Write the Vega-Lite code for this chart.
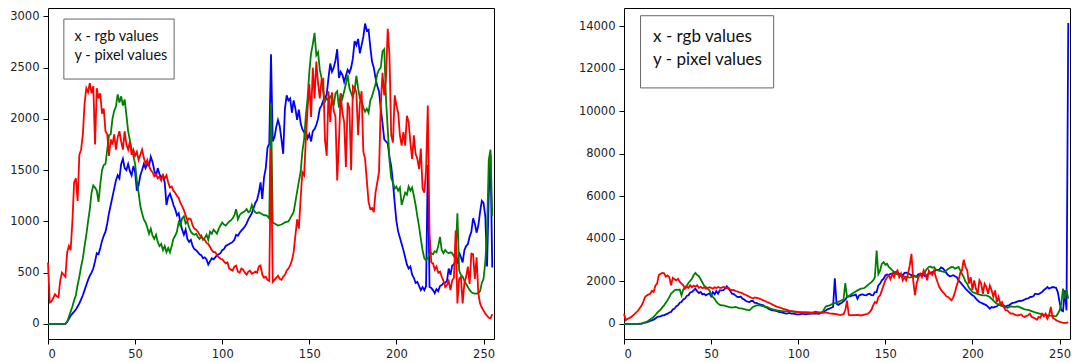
{
"$schema": "https://vega.github.io/schema/vega-lite/v6.json",
"padding": {"left": 9, "top": 7, "right": 0, "bottom": 0},
"bounds": "flush",
"spacing": 130,
"config": {
"view": {"stroke": "#000", "strokeWidth": 1},
"axis": {"domain": false, "grid": false, "format": "d", "tickColor": "#000", "tickSize": 5, "tickWidth": 1, "labelFont": "DejaVu Sans", "labelFontSize": 11.5, "labelColor": "#222", "labelPadding": 4, "title": null}
},
"datasets": {
"Lb": [{"x":0,"y":0},{"x":2,"y":0},{"x":4,"y":0},{"x":6,"y":0},{"x":8,"y":0},{"x":10,"y":0},{"x":11,"y":20},{"x":12,"y":50},{"x":13,"y":80},{"x":14,"y":100},{"x":15,"y":120},{"x":16,"y":140},{"x":17,"y":170},{"x":18,"y":200},{"x":19,"y":240},{"x":20,"y":280},{"x":21,"y":330},{"x":22,"y":380},{"x":23,"y":430},{"x":24,"y":470},{"x":25,"y":500},{"x":26,"y":540},{"x":27,"y":610},{"x":28,"y":690},{"x":29,"y":680},{"x":30,"y":740},{"x":31,"y":810},{"x":32,"y":860},{"x":33,"y":900},{"x":34,"y":980},{"x":35,"y":1080},{"x":36,"y":1160},{"x":37,"y":1240},{"x":38,"y":1320},{"x":39,"y":1400},{"x":40,"y":1450},{"x":41,"y":1420},{"x":42,"y":1560},{"x":43,"y":1610},{"x":44,"y":1520},{"x":45,"y":1500},{"x":46,"y":1560},{"x":47,"y":1490},{"x":48,"y":1450},{"x":49,"y":1540},{"x":50,"y":1480},{"x":51,"y":1300},{"x":52,"y":1350},{"x":53,"y":1450},{"x":54,"y":1500},{"x":55,"y":1560},{"x":56,"y":1520},{"x":57,"y":1560},{"x":58,"y":1540},{"x":59,"y":1630},{"x":60,"y":1580},{"x":61,"y":1500},{"x":62,"y":1440},{"x":63,"y":1520},{"x":64,"y":1460},{"x":65,"y":1430},{"x":66,"y":1450},{"x":67,"y":1380},{"x":68,"y":1160},{"x":69,"y":1240},{"x":70,"y":1270},{"x":71,"y":1220},{"x":72,"y":1160},{"x":73,"y":1120},{"x":74,"y":1060},{"x":75,"y":1080},{"x":76,"y":990},{"x":77,"y":920},{"x":78,"y":870},{"x":79,"y":920},{"x":80,"y":830},{"x":81,"y":800},{"x":82,"y":820},{"x":83,"y":760},{"x":84,"y":730},{"x":85,"y":720},{"x":86,"y":700},{"x":87,"y":680},{"x":88,"y":670},{"x":89,"y":640},{"x":90,"y":650},{"x":91,"y":630},{"x":92,"y":580},{"x":93,"y":610},{"x":94,"y":640},{"x":95,"y":630},{"x":96,"y":650},{"x":97,"y":670},{"x":98,"y":680},{"x":99,"y":690},{"x":100,"y":720},{"x":101,"y":730},{"x":102,"y":760},{"x":103,"y":770},{"x":104,"y":780},{"x":105,"y":790},{"x":106,"y":800},{"x":107,"y":820},{"x":108,"y":870},{"x":109,"y":860},{"x":110,"y":890},{"x":111,"y":910},{"x":112,"y":930},{"x":113,"y":950},{"x":114,"y":980},{"x":115,"y":1020},{"x":116,"y":1050},{"x":117,"y":1080},{"x":118,"y":1130},{"x":119,"y":1180},{"x":120,"y":1210},{"x":121,"y":1280},{"x":122,"y":1380},{"x":123,"y":1220},{"x":124,"y":1430},{"x":125,"y":1520},{"x":126,"y":1720},{"x":127,"y":1760},{"x":128,"y":2630},{"x":129,"y":1780},{"x":130,"y":1820},{"x":131,"y":1920},{"x":132,"y":1990},{"x":133,"y":1930},{"x":134,"y":1800},{"x":135,"y":1660},{"x":136,"y":2100},{"x":137,"y":2230},{"x":138,"y":2180},{"x":139,"y":2200},{"x":140,"y":2060},{"x":141,"y":2180},{"x":142,"y":2100},{"x":143,"y":1990},{"x":144,"y":2090},{"x":145,"y":1960},{"x":146,"y":1900},{"x":147,"y":1870},{"x":148,"y":1880},{"x":149,"y":1810},{"x":150,"y":1850},{"x":151,"y":1780},{"x":152,"y":1880},{"x":153,"y":1900},{"x":154,"y":1940},{"x":155,"y":2000},{"x":156,"y":2100},{"x":157,"y":2130},{"x":158,"y":2180},{"x":159,"y":2200},{"x":160,"y":2240},{"x":161,"y":2400},{"x":162,"y":2540},{"x":163,"y":2460},{"x":164,"y":2500},{"x":165,"y":2570},{"x":166,"y":2680},{"x":167,"y":2400},{"x":168,"y":2460},{"x":169,"y":2430},{"x":170,"y":2360},{"x":171,"y":2420},{"x":172,"y":2480},{"x":173,"y":2450},{"x":174,"y":2500},{"x":175,"y":2590},{"x":176,"y":2760},{"x":177,"y":2720},{"x":178,"y":2780},{"x":179,"y":2640},{"x":180,"y":2720},{"x":181,"y":2800},{"x":182,"y":2930},{"x":183,"y":2860},{"x":184,"y":2870},{"x":185,"y":2700},{"x":186,"y":2560},{"x":187,"y":2500},{"x":188,"y":2400},{"x":189,"y":2320},{"x":190,"y":2270},{"x":191,"y":2100},{"x":192,"y":1960},{"x":193,"y":1800},{"x":194,"y":1780},{"x":195,"y":1760},{"x":196,"y":1630},{"x":197,"y":1540},{"x":198,"y":1380},{"x":199,"y":1180},{"x":200,"y":1000},{"x":201,"y":900},{"x":202,"y":840},{"x":203,"y":780},{"x":204,"y":720},{"x":205,"y":650},{"x":206,"y":580},{"x":207,"y":540},{"x":208,"y":560},{"x":209,"y":480},{"x":210,"y":450},{"x":211,"y":400},{"x":212,"y":410},{"x":213,"y":370},{"x":214,"y":330},{"x":215,"y":360},{"x":216,"y":330},{"x":217,"y":370},{"x":218,"y":1550},{"x":219,"y":360},{"x":220,"y":350},{"x":221,"y":330},{"x":222,"y":300},{"x":223,"y":340},{"x":224,"y":320},{"x":225,"y":370},{"x":226,"y":380},{"x":227,"y":400},{"x":228,"y":400},{"x":229,"y":420},{"x":230,"y":540},{"x":231,"y":480},{"x":232,"y":570},{"x":233,"y":580},{"x":234,"y":620},{"x":235,"y":600},{"x":236,"y":700},{"x":237,"y":650},{"x":238,"y":600},{"x":239,"y":720},{"x":240,"y":760},{"x":241,"y":780},{"x":242,"y":850},{"x":243,"y":900},{"x":244,"y":1030},{"x":245,"y":980},{"x":246,"y":890},{"x":247,"y":960},{"x":248,"y":1090},{"x":249,"y":1200},{"x":250,"y":1180},{"x":251,"y":1050},{"x":252,"y":560},{"x":253,"y":1250},{"x":254,"y":1650},{"x":255,"y":550}],
"Lg": [{"x":0,"y":0},{"x":2,"y":0},{"x":4,"y":0},{"x":6,"y":0},{"x":8,"y":0},{"x":10,"y":0},{"x":11,"y":20},{"x":12,"y":70},{"x":13,"y":120},{"x":14,"y":170},{"x":15,"y":230},{"x":16,"y":280},{"x":17,"y":380},{"x":18,"y":460},{"x":19,"y":560},{"x":20,"y":640},{"x":21,"y":760},{"x":22,"y":870},{"x":23,"y":1000},{"x":24,"y":1120},{"x":25,"y":1280},{"x":26,"y":1350},{"x":27,"y":1330},{"x":28,"y":1300},{"x":29,"y":1190},{"x":30,"y":1360},{"x":31,"y":1500},{"x":32,"y":1550},{"x":33,"y":1560},{"x":34,"y":1700},{"x":35,"y":1840},{"x":36,"y":1850},{"x":37,"y":2000},{"x":38,"y":2080},{"x":39,"y":2120},{"x":40,"y":2240},{"x":41,"y":2160},{"x":42,"y":2220},{"x":43,"y":2130},{"x":44,"y":2190},{"x":45,"y":2040},{"x":46,"y":1880},{"x":47,"y":1790},{"x":48,"y":1700},{"x":49,"y":1640},{"x":50,"y":1560},{"x":51,"y":1400},{"x":52,"y":1280},{"x":53,"y":1150},{"x":54,"y":1080},{"x":55,"y":1020},{"x":56,"y":990},{"x":57,"y":940},{"x":58,"y":880},{"x":59,"y":930},{"x":60,"y":860},{"x":61,"y":830},{"x":62,"y":870},{"x":63,"y":800},{"x":64,"y":760},{"x":65,"y":780},{"x":66,"y":720},{"x":67,"y":760},{"x":68,"y":700},{"x":69,"y":740},{"x":70,"y":700},{"x":71,"y":760},{"x":72,"y":830},{"x":73,"y":860},{"x":74,"y":900},{"x":75,"y":990},{"x":76,"y":960},{"x":77,"y":1030},{"x":78,"y":1050},{"x":79,"y":980},{"x":80,"y":1000},{"x":81,"y":940},{"x":82,"y":900},{"x":83,"y":880},{"x":84,"y":870},{"x":85,"y":880},{"x":86,"y":850},{"x":87,"y":830},{"x":88,"y":860},{"x":89,"y":820},{"x":90,"y":840},{"x":91,"y":870},{"x":92,"y":820},{"x":93,"y":900},{"x":94,"y":880},{"x":95,"y":920},{"x":96,"y":900},{"x":97,"y":880},{"x":98,"y":930},{"x":99,"y":960},{"x":100,"y":990},{"x":101,"y":970},{"x":102,"y":960},{"x":103,"y":980},{"x":104,"y":1000},{"x":105,"y":1010},{"x":106,"y":1030},{"x":107,"y":1060},{"x":108,"y":1120},{"x":109,"y":1020},{"x":110,"y":1060},{"x":111,"y":1080},{"x":112,"y":1090},{"x":113,"y":1100},{"x":114,"y":1120},{"x":115,"y":1090},{"x":116,"y":1100},{"x":117,"y":1160},{"x":118,"y":1110},{"x":119,"y":1090},{"x":120,"y":1080},{"x":121,"y":1090},{"x":122,"y":1080},{"x":123,"y":1070},{"x":124,"y":1060},{"x":125,"y":1060},{"x":126,"y":1050},{"x":127,"y":1030},{"x":128,"y":2150},{"x":129,"y":990},{"x":130,"y":980},{"x":131,"y":970},{"x":132,"y":960},{"x":133,"y":965},{"x":134,"y":970},{"x":135,"y":980},{"x":136,"y":990},{"x":137,"y":995},{"x":138,"y":1000},{"x":139,"y":1030},{"x":140,"y":1060},{"x":141,"y":1090},{"x":142,"y":1190},{"x":143,"y":1290},{"x":144,"y":1390},{"x":145,"y":1480},{"x":146,"y":1680},{"x":147,"y":1800},{"x":148,"y":2030},{"x":149,"y":2200},{"x":150,"y":2460},{"x":151,"y":2640},{"x":152,"y":2730},{"x":153,"y":2840},{"x":154,"y":2620},{"x":155,"y":2650},{"x":156,"y":2480},{"x":157,"y":2400},{"x":158,"y":2260},{"x":159,"y":2170},{"x":160,"y":2200},{"x":161,"y":2180},{"x":162,"y":2220},{"x":163,"y":2200},{"x":164,"y":2130},{"x":165,"y":2250},{"x":166,"y":2270},{"x":167,"y":2110},{"x":168,"y":2250},{"x":169,"y":2200},{"x":170,"y":2270},{"x":171,"y":2340},{"x":172,"y":2430},{"x":173,"y":2300},{"x":174,"y":2250},{"x":175,"y":2210},{"x":176,"y":2280},{"x":177,"y":2420},{"x":178,"y":2300},{"x":179,"y":2200},{"x":180,"y":2180},{"x":181,"y":2110},{"x":182,"y":2070},{"x":183,"y":2100},{"x":184,"y":2060},{"x":185,"y":2180},{"x":186,"y":2220},{"x":187,"y":2280},{"x":188,"y":2340},{"x":189,"y":2440},{"x":190,"y":2480},{"x":191,"y":2500},{"x":192,"y":2660},{"x":193,"y":2680},{"x":194,"y":2200},{"x":195,"y":1900},{"x":196,"y":1600},{"x":197,"y":1420},{"x":198,"y":1380},{"x":199,"y":1320},{"x":200,"y":1340},{"x":201,"y":1300},{"x":202,"y":1330},{"x":203,"y":1160},{"x":204,"y":1220},{"x":205,"y":1280},{"x":206,"y":1260},{"x":207,"y":1340},{"x":208,"y":1300},{"x":209,"y":1330},{"x":210,"y":1250},{"x":211,"y":1160},{"x":212,"y":1050},{"x":213,"y":950},{"x":214,"y":830},{"x":215,"y":720},{"x":216,"y":640},{"x":217,"y":620},{"x":218,"y":640},{"x":219,"y":680},{"x":220,"y":690},{"x":221,"y":680},{"x":222,"y":710},{"x":223,"y":700},{"x":224,"y":760},{"x":225,"y":850},{"x":226,"y":720},{"x":227,"y":690},{"x":228,"y":720},{"x":229,"y":700},{"x":230,"y":690},{"x":231,"y":700},{"x":232,"y":690},{"x":233,"y":660},{"x":234,"y":700},{"x":235,"y":1080},{"x":236,"y":520},{"x":237,"y":480},{"x":238,"y":460},{"x":239,"y":420},{"x":240,"y":390},{"x":241,"y":360},{"x":242,"y":330},{"x":243,"y":310},{"x":244,"y":300},{"x":245,"y":295},{"x":246,"y":295},{"x":247,"y":300},{"x":248,"y":320},{"x":249,"y":400},{"x":250,"y":440},{"x":251,"y":600},{"x":252,"y":900},{"x":253,"y":1600},{"x":254,"y":1700},{"x":255,"y":1050}],
"Lr": [{"x":0,"y":600},{"x":1,"y":210},{"x":2,"y":220},{"x":3,"y":250},{"x":4,"y":290},{"x":5,"y":270},{"x":6,"y":260},{"x":7,"y":420},{"x":8,"y":500},{"x":9,"y":480},{"x":10,"y":460},{"x":11,"y":700},{"x":12,"y":760},{"x":13,"y":720},{"x":14,"y":1000},{"x":15,"y":1380},{"x":16,"y":1420},{"x":17,"y":1200},{"x":18,"y":1650},{"x":19,"y":1700},{"x":20,"y":1850},{"x":21,"y":2150},{"x":22,"y":2300},{"x":23,"y":2260},{"x":24,"y":2350},{"x":25,"y":2250},{"x":26,"y":2320},{"x":27,"y":1750},{"x":28,"y":2300},{"x":29,"y":2200},{"x":30,"y":2250},{"x":31,"y":2050},{"x":32,"y":2100},{"x":33,"y":1880},{"x":34,"y":1850},{"x":35,"y":1640},{"x":36,"y":1800},{"x":37,"y":1750},{"x":38,"y":1850},{"x":39,"y":1700},{"x":40,"y":1820},{"x":41,"y":1880},{"x":42,"y":1780},{"x":43,"y":1700},{"x":44,"y":1880},{"x":45,"y":1750},{"x":46,"y":1700},{"x":47,"y":1780},{"x":48,"y":1650},{"x":49,"y":1700},{"x":50,"y":1640},{"x":51,"y":1680},{"x":52,"y":1600},{"x":53,"y":1650},{"x":54,"y":1700},{"x":55,"y":1620},{"x":56,"y":1560},{"x":57,"y":1600},{"x":58,"y":1540},{"x":59,"y":1500},{"x":60,"y":1480},{"x":61,"y":1440},{"x":62,"y":1460},{"x":63,"y":1420},{"x":64,"y":1440},{"x":65,"y":1400},{"x":66,"y":1450},{"x":67,"y":1420},{"x":68,"y":1450},{"x":69,"y":1380},{"x":70,"y":1330},{"x":71,"y":1340},{"x":72,"y":1300},{"x":73,"y":1280},{"x":74,"y":1250},{"x":75,"y":1230},{"x":76,"y":1180},{"x":77,"y":1150},{"x":78,"y":1110},{"x":79,"y":1060},{"x":80,"y":1010},{"x":81,"y":1030},{"x":82,"y":1020},{"x":83,"y":960},{"x":84,"y":930},{"x":85,"y":920},{"x":86,"y":900},{"x":87,"y":870},{"x":88,"y":850},{"x":89,"y":830},{"x":90,"y":820},{"x":91,"y":790},{"x":92,"y":780},{"x":93,"y":750},{"x":94,"y":720},{"x":95,"y":700},{"x":96,"y":700},{"x":97,"y":670},{"x":98,"y":650},{"x":99,"y":636},{"x":100,"y":630},{"x":101,"y":610},{"x":102,"y":590},{"x":103,"y":600},{"x":104,"y":540},{"x":105,"y":530},{"x":106,"y":520},{"x":107,"y":560},{"x":108,"y":570},{"x":109,"y":510},{"x":110,"y":500},{"x":111,"y":540},{"x":112,"y":530},{"x":113,"y":500},{"x":114,"y":480},{"x":115,"y":510},{"x":116,"y":520},{"x":117,"y":490},{"x":118,"y":500},{"x":119,"y":510},{"x":120,"y":500},{"x":121,"y":560},{"x":122,"y":570},{"x":123,"y":480},{"x":124,"y":450},{"x":125,"y":460},{"x":126,"y":430},{"x":127,"y":420},{"x":128,"y":1700},{"x":129,"y":410},{"x":130,"y":430},{"x":131,"y":450},{"x":132,"y":470},{"x":133,"y":440},{"x":134,"y":430},{"x":135,"y":460},{"x":136,"y":480},{"x":137,"y":520},{"x":138,"y":540},{"x":139,"y":570},{"x":140,"y":620},{"x":141,"y":700},{"x":142,"y":860},{"x":143,"y":1020},{"x":144,"y":930},{"x":145,"y":1220},{"x":146,"y":1480},{"x":147,"y":1450},{"x":148,"y":1800},{"x":149,"y":2100},{"x":150,"y":2340},{"x":151,"y":2020},{"x":152,"y":2500},{"x":153,"y":2200},{"x":154,"y":2560},{"x":155,"y":2350},{"x":156,"y":2200},{"x":157,"y":2380},{"x":158,"y":2390},{"x":159,"y":1790},{"x":160,"y":1640},{"x":161,"y":2270},{"x":162,"y":1970},{"x":163,"y":2260},{"x":164,"y":2080},{"x":165,"y":2020},{"x":166,"y":1400},{"x":167,"y":1780},{"x":168,"y":2240},{"x":169,"y":2060},{"x":170,"y":1970},{"x":171,"y":1530},{"x":172,"y":2160},{"x":173,"y":2100},{"x":174,"y":1500},{"x":175,"y":2320},{"x":176,"y":2300},{"x":177,"y":2260},{"x":178,"y":1840},{"x":179,"y":2150},{"x":180,"y":2270},{"x":181,"y":1680},{"x":182,"y":1610},{"x":183,"y":1400},{"x":184,"y":1190},{"x":185,"y":1120},{"x":186,"y":1130},{"x":187,"y":1090},{"x":188,"y":1280},{"x":189,"y":1380},{"x":190,"y":1480},{"x":191,"y":2130},{"x":192,"y":2450},{"x":193,"y":2230},{"x":194,"y":2400},{"x":195,"y":2880},{"x":196,"y":2620},{"x":197,"y":1840},{"x":198,"y":1770},{"x":199,"y":2230},{"x":200,"y":2130},{"x":201,"y":2060},{"x":202,"y":1840},{"x":203,"y":1740},{"x":204,"y":1870},{"x":205,"y":1740},{"x":206,"y":2030},{"x":207,"y":1970},{"x":208,"y":1770},{"x":209,"y":1610},{"x":210,"y":1840},{"x":211,"y":1660},{"x":212,"y":1610},{"x":213,"y":1510},{"x":214,"y":1710},{"x":215,"y":1320},{"x":216,"y":1280},{"x":217,"y":1500},{"x":218,"y":2130},{"x":219,"y":880},{"x":220,"y":600},{"x":221,"y":590},{"x":222,"y":530},{"x":223,"y":560},{"x":224,"y":500},{"x":225,"y":510},{"x":226,"y":460},{"x":227,"y":420},{"x":228,"y":360},{"x":229,"y":380},{"x":230,"y":420},{"x":231,"y":330},{"x":232,"y":425},{"x":233,"y":450},{"x":234,"y":912},{"x":235,"y":200},{"x":236,"y":440},{"x":237,"y":460},{"x":238,"y":200},{"x":239,"y":400},{"x":240,"y":460},{"x":241,"y":560},{"x":242,"y":390},{"x":243,"y":685},{"x":244,"y":680},{"x":245,"y":440},{"x":246,"y":650},{"x":247,"y":300},{"x":248,"y":200},{"x":249,"y":160},{"x":250,"y":130},{"x":251,"y":100},{"x":252,"y":80},{"x":253,"y":60},{"x":254,"y":55},{"x":255,"y":95}],
"Rb": [{"x":0,"y":0},{"x":2,"y":0},{"x":4,"y":0},{"x":6,"y":0},{"x":8,"y":0},{"x":10,"y":0},{"x":11,"y":47},{"x":12,"y":60},{"x":13,"y":80},{"x":14,"y":110},{"x":15,"y":141},{"x":16,"y":170},{"x":17,"y":204},{"x":18,"y":260},{"x":19,"y":329},{"x":20,"y":350},{"x":21,"y":360},{"x":22,"y":400},{"x":23,"y":407},{"x":24,"y":450},{"x":25,"y":485},{"x":26,"y":540},{"x":27,"y":563},{"x":28,"y":680},{"x":29,"y":720},{"x":30,"y":840},{"x":31,"y":876},{"x":32,"y":1000},{"x":33,"y":1033},{"x":34,"y":1150},{"x":35,"y":1190},{"x":36,"y":1320},{"x":37,"y":1346},{"x":38,"y":1480},{"x":39,"y":1502},{"x":40,"y":1580},{"x":41,"y":1659},{"x":42,"y":1540},{"x":43,"y":1450},{"x":44,"y":1500},{"x":45,"y":1393},{"x":46,"y":1420},{"x":47,"y":1346},{"x":48,"y":1400},{"x":49,"y":1440},{"x":50,"y":1300},{"x":51,"y":1502},{"x":52,"y":1393},{"x":53,"y":1550},{"x":54,"y":1420},{"x":55,"y":1580},{"x":56,"y":1580},{"x":57,"y":1590},{"x":58,"y":1659},{"x":59,"y":1768},{"x":60,"y":1659},{"x":61,"y":1550},{"x":62,"y":1424},{"x":63,"y":1400},{"x":64,"y":1346},{"x":65,"y":1270},{"x":66,"y":1268},{"x":67,"y":1290},{"x":68,"y":1190},{"x":69,"y":1150},{"x":70,"y":1080},{"x":71,"y":1050},{"x":72,"y":1033},{"x":73,"y":1080},{"x":74,"y":1080},{"x":75,"y":990},{"x":76,"y":987},{"x":77,"y":950},{"x":78,"y":924},{"x":79,"y":900},{"x":80,"y":876},{"x":81,"y":800},{"x":82,"y":767},{"x":83,"y":700},{"x":84,"y":670},{"x":85,"y":640},{"x":86,"y":640},{"x":87,"y":611},{"x":88,"y":600},{"x":89,"y":563},{"x":90,"y":560},{"x":91,"y":530},{"x":92,"y":510},{"x":93,"y":485},{"x":94,"y":500},{"x":95,"y":520},{"x":96,"y":490},{"x":97,"y":485},{"x":98,"y":470},{"x":99,"y":454},{"x":100,"y":450},{"x":101,"y":454},{"x":102,"y":480},{"x":103,"y":470},{"x":104,"y":454},{"x":106,"y":480},{"x":108,"y":490},{"x":110,"y":500},{"x":112,"y":480},{"x":114,"y":560},{"x":116,"y":642},{"x":117,"y":700},{"x":118,"y":720},{"x":119,"y":760},{"x":120,"y":798},{"x":121,"y":2150},{"x":122,"y":956},{"x":123,"y":900},{"x":124,"y":956},{"x":125,"y":1000},{"x":126,"y":1060},{"x":127,"y":1140},{"x":128,"y":1268},{"x":129,"y":1300},{"x":130,"y":1300},{"x":131,"y":1340},{"x":132,"y":1346},{"x":133,"y":1390},{"x":134,"y":1180},{"x":135,"y":1346},{"x":136,"y":1380},{"x":137,"y":1393},{"x":138,"y":1360},{"x":139,"y":1346},{"x":140,"y":1400},{"x":141,"y":1424},{"x":142,"y":1360},{"x":143,"y":1346},{"x":144,"y":1500},{"x":145,"y":1502},{"x":146,"y":1815},{"x":147,"y":1900},{"x":148,"y":2050},{"x":149,"y":2128},{"x":150,"y":2280},{"x":151,"y":2330},{"x":152,"y":2300},{"x":153,"y":2360},{"x":154,"y":2363},{"x":155,"y":2400},{"x":156,"y":2441},{"x":157,"y":2400},{"x":158,"y":2363},{"x":159,"y":2330},{"x":160,"y":2290},{"x":161,"y":2400},{"x":162,"y":2410},{"x":163,"y":2380},{"x":164,"y":2340},{"x":165,"y":2300},{"x":166,"y":2290},{"x":167,"y":2250},{"x":168,"y":2240},{"x":169,"y":2340},{"x":170,"y":2340},{"x":171,"y":2363},{"x":172,"y":2300},{"x":173,"y":2240},{"x":174,"y":2300},{"x":175,"y":2363},{"x":176,"y":2400},{"x":177,"y":2441},{"x":178,"y":2480},{"x":179,"y":2520},{"x":180,"y":2540},{"x":181,"y":2560},{"x":182,"y":2660},{"x":183,"y":2620},{"x":184,"y":2520},{"x":185,"y":2400},{"x":186,"y":2300},{"x":187,"y":2240},{"x":188,"y":2260},{"x":189,"y":2290},{"x":190,"y":2240},{"x":191,"y":2200},{"x":192,"y":2050},{"x":193,"y":1960},{"x":194,"y":1860},{"x":195,"y":1760},{"x":196,"y":1659},{"x":197,"y":1580},{"x":198,"y":1500},{"x":199,"y":1420},{"x":200,"y":1346},{"x":201,"y":1300},{"x":202,"y":1190},{"x":203,"y":1110},{"x":204,"y":1033},{"x":205,"y":1000},{"x":206,"y":956},{"x":207,"y":920},{"x":208,"y":876},{"x":209,"y":800},{"x":210,"y":720},{"x":211,"y":798},{"x":212,"y":770},{"x":213,"y":800},{"x":214,"y":830},{"x":215,"y":900},{"x":216,"y":924},{"x":217,"y":876},{"x":218,"y":876},{"x":219,"y":800},{"x":220,"y":860},{"x":221,"y":876},{"x":222,"y":940},{"x":223,"y":987},{"x":224,"y":1000},{"x":225,"y":1030},{"x":226,"y":1060},{"x":227,"y":1080},{"x":228,"y":1090},{"x":229,"y":1111},{"x":230,"y":1150},{"x":231,"y":1190},{"x":232,"y":1200},{"x":233,"y":1268},{"x":234,"y":1280},{"x":235,"y":1300},{"x":236,"y":1424},{"x":237,"y":1400},{"x":238,"y":1400},{"x":239,"y":1460},{"x":240,"y":1502},{"x":241,"y":1600},{"x":242,"y":1650},{"x":243,"y":1737},{"x":244,"y":1660},{"x":245,"y":1700},{"x":246,"y":1737},{"x":247,"y":1720},{"x":248,"y":1700},{"x":249,"y":1500},{"x":250,"y":1033},{"x":251,"y":642},{"x":252,"y":600},{"x":253,"y":1580},{"x":254,"y":640},{"x":255,"y":14150}],
"Rg": [{"x":0,"y":0},{"x":2,"y":0},{"x":4,"y":0},{"x":6,"y":0},{"x":8,"y":0},{"x":9,"y":16},{"x":10,"y":30},{"x":11,"y":47},{"x":12,"y":70},{"x":13,"y":94},{"x":14,"y":150},{"x":15,"y":204},{"x":16,"y":270},{"x":17,"y":329},{"x":18,"y":420},{"x":19,"y":517},{"x":20,"y":600},{"x":21,"y":673},{"x":22,"y":780},{"x":23,"y":876},{"x":24,"y":1000},{"x":25,"y":1110},{"x":26,"y":1260},{"x":27,"y":1424},{"x":28,"y":1500},{"x":29,"y":1580},{"x":30,"y":1610},{"x":31,"y":1600},{"x":32,"y":1620},{"x":33,"y":1346},{"x":34,"y":1620},{"x":35,"y":1700},{"x":36,"y":1800},{"x":37,"y":1925},{"x":38,"y":2030},{"x":39,"y":2128},{"x":40,"y":2300},{"x":41,"y":2400},{"x":42,"y":2300},{"x":43,"y":2250},{"x":44,"y":2100},{"x":45,"y":1950},{"x":46,"y":1800},{"x":47,"y":1737},{"x":48,"y":1660},{"x":49,"y":1580},{"x":50,"y":1400},{"x":51,"y":1268},{"x":52,"y":1180},{"x":53,"y":1050},{"x":54,"y":956},{"x":55,"y":900},{"x":56,"y":880},{"x":57,"y":876},{"x":58,"y":850},{"x":59,"y":830},{"x":60,"y":800},{"x":62,"y":770},{"x":64,"y":800},{"x":66,"y":750},{"x":68,"y":720},{"x":70,"y":680},{"x":72,"y":640},{"x":73,"y":720},{"x":74,"y":800},{"x":76,"y":876},{"x":78,"y":876},{"x":80,"y":830},{"x":82,"y":800},{"x":84,"y":720},{"x":86,"y":680},{"x":88,"y":640},{"x":90,"y":610},{"x":92,"y":590},{"x":94,"y":600},{"x":96,"y":590},{"x":98,"y":580},{"x":100,"y":560},{"x":102,"y":560},{"x":104,"y":550},{"x":106,"y":540},{"x":108,"y":530},{"x":110,"y":580},{"x":112,"y":530},{"x":114,"y":560},{"x":115,"y":720},{"x":116,"y":830},{"x":118,"y":876},{"x":120,"y":956},{"x":122,"y":990},{"x":124,"y":1080},{"x":126,"y":1140},{"x":127,"y":1925},{"x":128,"y":1300},{"x":129,"y":1300},{"x":130,"y":1380},{"x":132,"y":1480},{"x":134,"y":1580},{"x":136,"y":1660},{"x":138,"y":1690},{"x":140,"y":1830},{"x":141,"y":1894},{"x":142,"y":1970},{"x":143,"y":2050},{"x":144,"y":2200},{"x":145,"y":3450},{"x":146,"y":2350},{"x":147,"y":2520},{"x":148,"y":2833},{"x":149,"y":2911},{"x":150,"y":2780},{"x":151,"y":2833},{"x":152,"y":2680},{"x":153,"y":2598},{"x":154,"y":2520},{"x":155,"y":2450},{"x":156,"y":2363},{"x":158,"y":2290},{"x":160,"y":2240},{"x":162,"y":2210},{"x":164,"y":2180},{"x":166,"y":2240},{"x":168,"y":2210},{"x":170,"y":2290},{"x":172,"y":2360},{"x":174,"y":2600},{"x":175,"y":2680},{"x":176,"y":2700},{"x":177,"y":2640},{"x":178,"y":2677},{"x":179,"y":2560},{"x":180,"y":2520},{"x":182,"y":2480},{"x":184,"y":2440},{"x":186,"y":2580},{"x":188,"y":2680},{"x":189,"y":2677},{"x":190,"y":2600},{"x":191,"y":2640},{"x":192,"y":2677},{"x":193,"y":2520},{"x":194,"y":2360},{"x":195,"y":2200},{"x":196,"y":1990},{"x":197,"y":1894},{"x":198,"y":1700},{"x":199,"y":1600},{"x":200,"y":1502},{"x":202,"y":1440},{"x":204,"y":1377},{"x":206,"y":1346},{"x":208,"y":1346},{"x":210,"y":1268},{"x":212,"y":1100},{"x":214,"y":956},{"x":216,"y":876},{"x":218,"y":800},{"x":220,"y":760},{"x":222,"y":830},{"x":224,"y":800},{"x":226,"y":830},{"x":228,"y":760},{"x":230,"y":690},{"x":232,"y":660},{"x":234,"y":600},{"x":236,"y":540},{"x":238,"y":500},{"x":240,"y":454},{"x":242,"y":420},{"x":244,"y":392},{"x":246,"y":380},{"x":248,"y":360},{"x":249,"y":480},{"x":250,"y":642},{"x":251,"y":950},{"x":252,"y":1660},{"x":253,"y":1200},{"x":254,"y":1580},{"x":255,"y":1190}],
"Rr": [{"x":0,"y":480},{"x":1,"y":170},{"x":2,"y":230},{"x":4,"y":320},{"x":6,"y":460},{"x":8,"y":620},{"x":10,"y":850},{"x":11,"y":1030},{"x":12,"y":1260},{"x":13,"y":1340},{"x":14,"y":1380},{"x":15,"y":1420},{"x":16,"y":1560},{"x":17,"y":1500},{"x":18,"y":1800},{"x":19,"y":1900},{"x":20,"y":2300},{"x":21,"y":2360},{"x":22,"y":2400},{"x":23,"y":2380},{"x":24,"y":2220},{"x":25,"y":2280},{"x":26,"y":2200},{"x":27,"y":1820},{"x":28,"y":2170},{"x":29,"y":2100},{"x":30,"y":2050},{"x":31,"y":2120},{"x":32,"y":1980},{"x":33,"y":1900},{"x":34,"y":1820},{"x":35,"y":1660},{"x":36,"y":1740},{"x":37,"y":1700},{"x":38,"y":1820},{"x":39,"y":1730},{"x":40,"y":1800},{"x":41,"y":1760},{"x":42,"y":1820},{"x":43,"y":1700},{"x":44,"y":1750},{"x":45,"y":1680},{"x":46,"y":1720},{"x":47,"y":1660},{"x":48,"y":1690},{"x":49,"y":1730},{"x":50,"y":1700},{"x":51,"y":1660},{"x":52,"y":1720},{"x":53,"y":1690},{"x":54,"y":1740},{"x":55,"y":1700},{"x":56,"y":1700},{"x":57,"y":1740},{"x":58,"y":1720},{"x":59,"y":1680},{"x":60,"y":1700},{"x":61,"y":1610},{"x":62,"y":1590},{"x":63,"y":1600},{"x":64,"y":1550},{"x":65,"y":1530},{"x":66,"y":1500},{"x":67,"y":1480},{"x":68,"y":1440},{"x":69,"y":1400},{"x":70,"y":1360},{"x":71,"y":1320},{"x":72,"y":1280},{"x":73,"y":1230},{"x":74,"y":1200},{"x":75,"y":1250},{"x":76,"y":1230},{"x":77,"y":1210},{"x":78,"y":1180},{"x":79,"y":1150},{"x":80,"y":1110},{"x":81,"y":1080},{"x":82,"y":1030},{"x":83,"y":1000},{"x":84,"y":960},{"x":85,"y":920},{"x":86,"y":880},{"x":87,"y":840},{"x":88,"y":800},{"x":89,"y":780},{"x":90,"y":760},{"x":91,"y":720},{"x":92,"y":700},{"x":93,"y":680},{"x":94,"y":650},{"x":95,"y":620},{"x":96,"y":600},{"x":97,"y":590},{"x":98,"y":570},{"x":99,"y":580},{"x":100,"y":560},{"x":102,"y":530},{"x":104,"y":520},{"x":106,"y":530},{"x":108,"y":520},{"x":110,"y":540},{"x":112,"y":530},{"x":114,"y":520},{"x":116,"y":540},{"x":118,"y":500},{"x":120,"y":480},{"x":122,"y":460},{"x":124,"y":420},{"x":126,"y":460},{"x":127,"y":640},{"x":128,"y":1100},{"x":129,"y":430},{"x":130,"y":410},{"x":132,"y":420},{"x":134,"y":430},{"x":136,"y":400},{"x":138,"y":440},{"x":140,"y":480},{"x":141,"y":560},{"x":142,"y":660},{"x":143,"y":870},{"x":144,"y":1030},{"x":145,"y":980},{"x":146,"y":1260},{"x":147,"y":1350},{"x":148,"y":1580},{"x":149,"y":1820},{"x":150,"y":2050},{"x":151,"y":2200},{"x":152,"y":2280},{"x":153,"y":2100},{"x":154,"y":2360},{"x":155,"y":2200},{"x":156,"y":2420},{"x":157,"y":2520},{"x":158,"y":2200},{"x":159,"y":2370},{"x":160,"y":2050},{"x":161,"y":2200},{"x":162,"y":2050},{"x":163,"y":2350},{"x":164,"y":2750},{"x":165,"y":3300},{"x":166,"y":2050},{"x":167,"y":1350},{"x":168,"y":1900},{"x":169,"y":2200},{"x":170,"y":2360},{"x":171,"y":2200},{"x":172,"y":2520},{"x":173,"y":2360},{"x":174,"y":2050},{"x":175,"y":2500},{"x":176,"y":2370},{"x":177,"y":2300},{"x":178,"y":2520},{"x":179,"y":2200},{"x":180,"y":1960},{"x":181,"y":1737},{"x":182,"y":1600},{"x":183,"y":1500},{"x":184,"y":1420},{"x":185,"y":1300},{"x":186,"y":1270},{"x":187,"y":1190},{"x":188,"y":1110},{"x":189,"y":1250},{"x":190,"y":1500},{"x":191,"y":1815},{"x":192,"y":2050},{"x":193,"y":2400},{"x":194,"y":2520},{"x":195,"y":3020},{"x":196,"y":2680},{"x":197,"y":2520},{"x":198,"y":1900},{"x":199,"y":2200},{"x":200,"y":1600},{"x":201,"y":2050},{"x":202,"y":1650},{"x":203,"y":1420},{"x":204,"y":2050},{"x":205,"y":1900},{"x":206,"y":1420},{"x":207,"y":1890},{"x":208,"y":1730},{"x":209,"y":1420},{"x":210,"y":1810},{"x":211,"y":1580},{"x":212,"y":1270},{"x":213,"y":1580},{"x":214,"y":1030},{"x":215,"y":1270},{"x":216,"y":950},{"x":217,"y":1030},{"x":218,"y":800},{"x":219,"y":640},{"x":220,"y":640},{"x":221,"y":560},{"x":222,"y":485},{"x":223,"y":500},{"x":224,"y":450},{"x":225,"y":420},{"x":226,"y":400},{"x":227,"y":430},{"x":228,"y":450},{"x":229,"y":360},{"x":230,"y":330},{"x":231,"y":380},{"x":232,"y":410},{"x":233,"y":480},{"x":234,"y":330},{"x":235,"y":300},{"x":236,"y":260},{"x":237,"y":200},{"x":238,"y":330},{"x":239,"y":300},{"x":240,"y":480},{"x":241,"y":360},{"x":242,"y":485},{"x":243,"y":250},{"x":244,"y":410},{"x":245,"y":800},{"x":246,"y":300},{"x":247,"y":250},{"x":248,"y":180},{"x":249,"y":140},{"x":250,"y":100},{"x":251,"y":80},{"x":252,"y":50},{"x":253,"y":50},{"x":254,"y":50},{"x":255,"y":80}],
"Lbox": [{"x":9.1,"x2":72.4,"y":2974,"y2":2389}],
"Ltxt": [{"x":15.2,"y":2762,"t":"x - rgb values"},{"x":15.2,"y":2574,"t":"y - pixel values"}],
"Rbox": [{"x":9.5,"x2":85.9,"y":14494,"y2":11099}],
"Rtxt": [{"x":16.7,"y":13240,"t":"x - rgb values"},{"x":16.7,"y":12193,"t":"y - pixel values"}]
},
"hconcat": [
{
"width": 446, "height": 331,
"encoding": {
"x": {"field": "x", "type": "quantitative", "scale": {"domain": [0, 256], "nice": false, "zero": false}, "axis": {"values": [0, 50, 100, 150, 200, 250]}},
"y": {"field": "y", "type": "quantitative", "scale": {"domain": [-147, 3082], "nice": false, "zero": false}, "axis": {"values": [0, 500, 1000, 1500, 2000, 2500, 3000]}}
},
"layer": [
{"data": {"name": "Lb"}, "mark": {"type": "line", "color": "#0000ff", "strokeWidth": 1.8}},
{"data": {"name": "Lg"}, "mark": {"type": "line", "color": "#008000", "strokeWidth": 1.8}},
{"data": {"name": "Lr"}, "mark": {"type": "line", "color": "#ff0000", "strokeWidth": 1.8}},
{"data": {"name": "Lbox"}, "mark": {"type": "rect", "fill": "#ffffff", "stroke": "#666666", "strokeWidth": 1}, "encoding": {"x2": {"field": "x2"}, "y2": {"field": "y2"}}},
{"data": {"name": "Ltxt"}, "mark": {"type": "text", "align": "left", "baseline": "alphabetic", "font": "Lato", "fontSize": 14.5, "color": "#111111"}, "encoding": {"text": {"field": "t"}}}
]
},
{
"width": 446, "height": 331,
"encoding": {
"x": {"field": "x", "type": "quantitative", "scale": {"domain": [0, 256], "nice": false, "zero": false}, "axis": {"values": [0, 50, 100, 150, 200, 250]}},
"y": {"field": "y", "type": "quantitative", "scale": {"domain": [-707, 14857], "nice": false, "zero": false}, "axis": {"values": [0, 2000, 4000, 6000, 8000, 10000, 12000, 14000]}}
},
"layer": [
{"data": {"name": "Rb"}, "mark": {"type": "line", "color": "#0000ff", "strokeWidth": 1.8}},
{"data": {"name": "Rg"}, "mark": {"type": "line", "color": "#008000", "strokeWidth": 1.8}},
{"data": {"name": "Rr"}, "mark": {"type": "line", "color": "#ff0000", "strokeWidth": 1.8}},
{"data": {"name": "Rbox"}, "mark": {"type": "rect", "fill": "#ffffff", "stroke": "#666666", "strokeWidth": 1}, "encoding": {"x2": {"field": "x2"}, "y2": {"field": "y2"}}},
{"data": {"name": "Rtxt"}, "mark": {"type": "text", "align": "left", "baseline": "alphabetic", "font": "Lato", "fontSize": 17, "color": "#111111"}, "encoding": {"text": {"field": "t"}}}
]
}
]
}
